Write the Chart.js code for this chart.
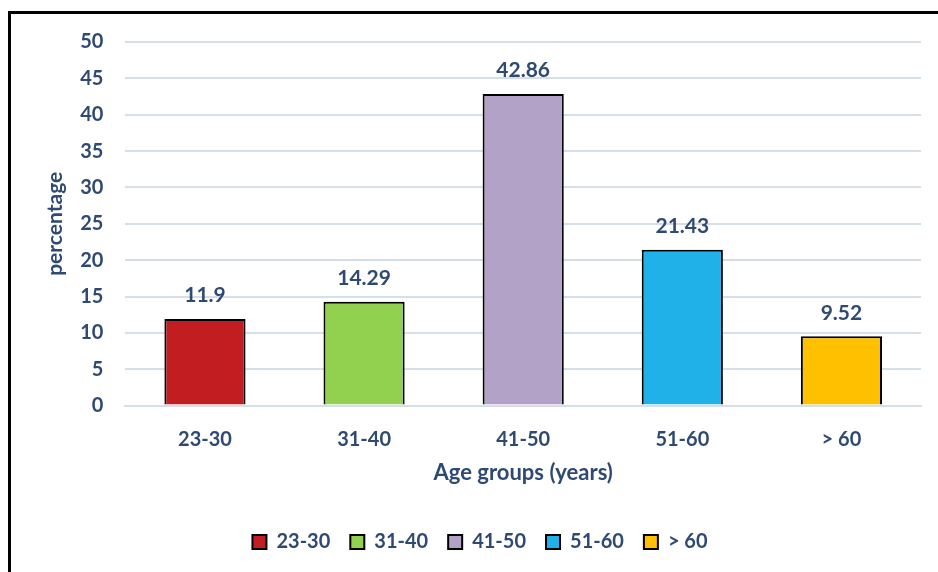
<!DOCTYPE html>
<html>
<head>
<meta charset="utf-8">
<script src="https://cdn.jsdelivr.net/npm/chart.js@4.4.1/dist/chart.umd.min.js"></script>
<style>
  html, body { margin: 0; padding: 0; background: #fff; overflow: hidden; }
  #frame { position: absolute; left: 8px; top: 11px; width: 960px; height: 620px;
           border-left: 3px solid #000; border-top: 3px solid #000; }
  #wrap { position: absolute; left: 0; top: 0; width: 938px; height: 572px; }
</style>
</head>
<body>
<div id="frame"></div>
<div id="wrap"><canvas id="chart"></canvas></div>
<script>
// data
const ageGroups = ['23-30', '31-40', '41-50', '51-60', '> 60'];
const percentages = [11.9, 14.29, 42.86, 21.43, 9.52];
const barColors = ['#C21E22', '#92D050', '#B3A2C7', '#1FB1E8', '#FFC000'];
const yTicks = [0, 5, 10, 15, 20, 25, 30, 35, 40, 45, 50];

const textColor = '#2E4A72';
const fontFam = 'Lato, "Open Sans", sans-serif';

// values above the bars
const valueLabels = {
  id: 'valueLabels',
  afterDatasetsDraw(chart) {
    const ctx = chart.ctx;
    const meta = chart.getDatasetMeta(0);
    ctx.save();
    ctx.font = 'bold 21px ' + fontFam;
    ctx.fillStyle = textColor;
    ctx.textAlign = 'center';
    ctx.textBaseline = 'bottom';
    meta.data.forEach((bar, i) => {
      ctx.fillText(String(percentages[i]), bar.x, bar.y - 13);
    });
    ctx.restore();
  }
};

new Chart(document.getElementById('chart'), {
  type: 'bar',
  data: {
    labels: ageGroups,
    datasets: [{
      label: 'percentage',
      data: percentages,
      backgroundColor: barColors,
      borderColor: '#000',
      borderWidth: 2,
      categoryPercentage: 1,
      barPercentage: 0.51
    }]
  },
  options: {
    responsive: true,
    maintainAspectRatio: false,
    animation: false,
    layout: { padding: { left: 39, right: 17, top: 42, bottom: 10 } },
    plugins: {
      tooltip: { enabled: false },
      legend: {
        position: 'bottom',
        labels: {
          color: textColor,
          font: { family: fontFam, size: 20, weight: 'bold' },
          boxWidth: 14,
          boxHeight: 14,
          padding: 20,
          generateLabels: (chart) => ageGroups.map((g, i) => ({
            text: g,
            fillStyle: barColors[i],
            strokeStyle: '#000',
            lineWidth: 2,
            fontColor: textColor,
            index: i
          }))
        },
        onClick: () => {}
      }
    },
    scales: {
      x: {
        grid: { display: false, drawTicks: false },
        border: { display: true, color: '#D6DEE8', width: 2 },
        ticks: {
          color: textColor,
          padding: 22,
          font: { family: fontFam, size: 20, weight: 'bold' }
        },
        title: {
          display: true,
          text: 'Age groups (years)',
          color: textColor,
          font: { family: fontFam, size: 22, weight: 'bold' },
          padding: { top: -14, bottom: 26 }
        }
      },
      y: {
        min: 0,
        max: 50,
        afterBuildTicks: (axis) => { axis.ticks = yTicks.map(v => ({ value: v })); },
        grid: { color: '#D6DEE8', lineWidth: 2, drawTicks: false },
        border: { display: false },
        ticks: {
          color: textColor,
          padding: 22,
          font: { family: fontFam, size: 20, weight: 'bold' }
        },
        title: {
          display: true,
          text: 'percentage',
          color: textColor,
          font: { family: fontFam, size: 21, weight: 'bold' },
          padding: { bottom: -10 }
        }
      }
    }
  },
  plugins: [valueLabels]
});
</script>
</body>
</html>
